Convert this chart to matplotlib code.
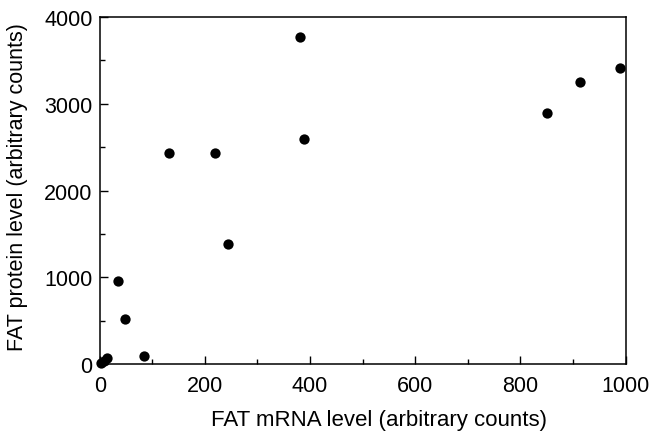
import matplotlib
matplotlib.use("Agg")
import matplotlib.pyplot as plt
from matplotlib.ticker import MultipleLocator

mrna = [2, 8, 14, 35, 48, 85, 132, 220, 244, 381, 389, 850, 913, 990]
protein = [10, 35, 65, 960, 515, 96, 2427, 2427, 1382, 3771, 2595, 2888, 3249, 3413]

plt.rcParams['font.family'] = ['Liberation Sans', 'DejaVu Sans']

fig = plt.figure(figsize=(6.52, 4.35), dpi=100)
ax = fig.add_axes([0.1529, 0.1609, 0.9594 - 0.1529, 0.9586 - 0.1609])

ax.scatter(mrna, protein, s=55, color='black', zorder=3, clip_on=False, linewidths=0)

ax.set_xlim(0, 1000)
ax.set_ylim(0, 4000)
ax.xaxis.set_major_locator(MultipleLocator(200))
ax.xaxis.set_minor_locator(MultipleLocator(100))
ax.yaxis.set_major_locator(MultipleLocator(1000))
ax.yaxis.set_minor_locator(MultipleLocator(500))
ax.tick_params(which='both', direction='in', width=1.0, labelsize=15.5, color='black')
ax.tick_params(which='major', length=5.5)
ax.tick_params(which='minor', length=3.5)
ax.tick_params(axis='x', which='major', pad=8)
ax.tick_params(axis='y', which='major', pad=5)

for sp in ax.spines.values():
    sp.set_linewidth(1.1)

ax.set_xlabel('FAT mRNA level (arbitrary counts)', fontsize=16)
ax.xaxis.set_label_coords(0.532, -0.13)
ax.set_ylabel('FAT protein level (arbitrary counts)', fontsize=15.5)
ax.yaxis.set_label_coords(-0.136, 0.513)

fig.savefig('out.png', dpi=100)
